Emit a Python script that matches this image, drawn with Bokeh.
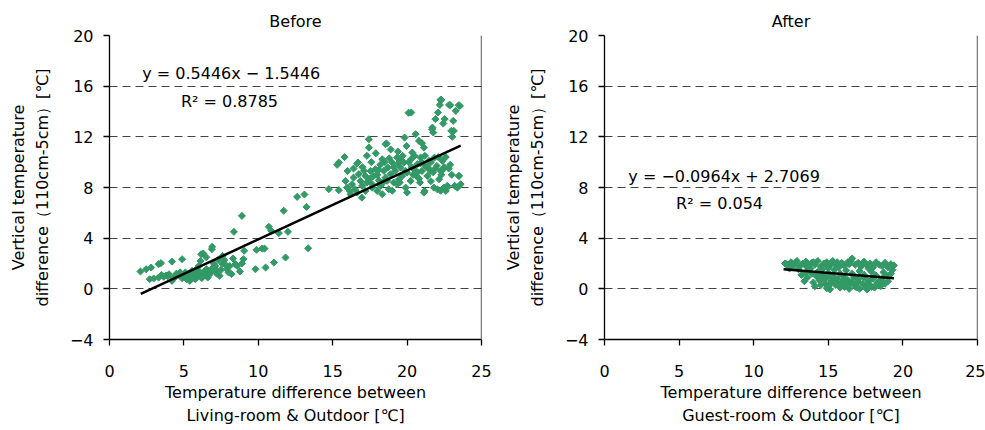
from bokeh.plotting import figure
from bokeh.layouts import row
from bokeh.models import Range1d, FixedTicker, Span, Label
from bokeh.embed import file_html
from bokeh.resources import INLINE

# ---------------- data ----------------
before_x = [2.08, 2.46, 2.8, 3.3, 3.46, 4.2, 4.88, 2.7, 2.97, 3.3, 3.65, 3.92, 4.2, 4.43, 4.66, 4.88,
            5.1, 5.26, 5.4, 5.55, 5.66, 5.77, 5.88, 6.0, 6.12, 6.16, 6.3, 6.34, 6.52, 6.6, 6.75, 6.88,
            6.9, 7.1, 7.27, 7.4, 7.57, 7.72, 7.9, 8.08, 8.2, 8.3, 8.46, 8.58, 8.76, 8.9, 9.0, 9.05,
            8.36, 9.81, 9.88, 10.26, 10.42, 10.49, 10.71, 10.87, 11.05, 11.38, 11.71, 11.83, 11.99,
            12.61, 13.1, 13.24, 13.35,
            5.0, 5.3, 5.6, 5.9, 6.1, 6.2, 6.4, 6.7, 6.9, 7.0, 7.2, 7.5, 7.8, 8.0, 4.5, 4.0, 3.5,
            6.5, 7.3, 5.2, 5.8, 7.6, 8.9,
            14.74, 15.41, 15.3, 15.41, 16.7, 15.86, 15.97, 16.15, 16.3, 16.4, 16.5, 16.65, 16.75,
            16.87, 16.98, 17.1, 17.2, 17.3, 17.43, 17.43, 17.54, 17.65, 17.76, 17.87, 17.99, 18.1,
            18.22, 18.33, 18.44, 18.55, 18.62, 18.7, 18.77, 18.89, 19.0, 19.1, 19.2, 19.33, 19.38,
            19.45, 19.56, 19.67, 19.78, 19.83, 19.9, 19.96, 20.0, 20.28, 20.26, 20.24, 20.35, 20.46,
            20.57, 20.64, 20.68, 20.8, 20.86, 20.91, 21.0, 21.0, 21.13, 21.17, 21.25, 21.36, 21.47,
            21.58, 21.7, 21.76, 21.8, 21.84, 21.9, 22.0, 22.03, 22.07, 22.15, 22.2, 22.26, 22.3,
            22.37, 22.43, 22.48, 22.52, 22.6, 22.7, 22.82, 22.97, 23.04, 23.1, 23.2, 23.27, 23.38,
            23.49, 23.55, 23.6, 16.2, 16.96, 17.65, 18.33, 18.66, 19.0, 19.33, 20.0, 21.13, 22.25,
            22.7,
            17.0, 17.6, 18.0, 18.2, 18.5, 18.8, 19.1, 19.4, 19.7, 20.1, 20.3, 20.5, 20.7, 21.0, 21.2,
            21.4, 21.6, 21.9, 22.1, 22.3, 22.5, 22.6, 22.8, 23.0, 19.5, 20.8, 21.6, 17.5, 18.4, 16.0,
            16.4, 15.8, 17.9, 18.9, 16.64, 17.3, 18.55, 20.1, 22.24, 22.9, 23.47, 21.68, 23.14, 23.47,
            5.45, 5.7, 6.05, 6.25, 6.45, 4.75, 4.3, 3.8, 7.15, 6.85, 19.9, 20.4, 21.3, 21.75, 22.4,
            18.1, 17.2, 20.9, 22.9, 19.6]
before_y = [1.37, 1.55, 1.68, 1.95, 2.03, 2.15, 2.34, 0.76, 0.82, 0.89, 0.95, 1.0, 0.63, 0.95, 1.1, 0.84,
            1.29, 0.95, 0.63, 1.42, 1.03, 0.76, 1.29, 1.8, 2.2, 2.73, 2.79, 1.16, 1.55, 0.89, 1.29, 3.13,
            3.32, 1.8, 1.42, 1.03, 1.99, 2.26, 1.55, 1.8, 1.16, 2.4, 1.95, 1.8, 1.37, 5.76, 2.34, 3.0,
            4.5, 1.55, 3.08, 3.18, 3.18, 1.68, 4.9, 4.58, 2.07, 4.4, 6.16, 2.47, 4.5,
            7.26, 7.45, 6.47, 3.2,
            1.1, 1.2, 0.9, 1.0, 1.3, 0.85, 1.4, 1.1, 1.6, 2.0, 1.2, 1.5, 1.9, 1.3, 1.2, 1.15, 1.1,
            2.5, 2.3, 0.75, 1.5, 2.6, 2.0,
            7.87, 7.79, 9.79, 9.97, 9.97, 8.52, 7.99, 7.73, 8.26, 8.78, 7.86, 7.6, 9.05,
            8.52, 8.13, 9.31, 7.73, 8.39, 11.15, 11.81, 9.31, 7.99, 8.91, 9.44, 7.73, 8.57,
            8.13, 10.23, 9.31, 8.78, 11.47, 9.57, 7.86, 9.05, 9.97, 8.39, 9.31, 10.36, 10.84,
            8.65, 9.57, 8.91, 9.97, 11.94, 7.99, 11.28, 9.18, 13.92, 10.23, 8.52, 10.76, 9.44,
            12.21, 8.91, 9.84, 11.68, 8.39, 10.36, 11.5, 9.31, 11.15, 7.73, 9.7, 8.91, 10.1,
            9.31, 12.73, 12.34, 7.99, 10.36, 13.4, 9.7, 7.86, 13.92, 8.65, 14.52, 9.31, 14.92,
            10.1, 13.05, 7.99, 13.4, 7.73, 8.13, 14.52, 12.47, 12.0, 13.26, 8.13, 14.05, 7.99,
            8.91, 14.44, 8.26, 7.47, 7.2, 8.26, 7.47, 8.53, 7.74, 8.26, 7.6, 7.6, 7.74,
            8.0,
            9.6, 10.0, 9.0, 9.8, 10.0, 10.3, 9.6, 9.9, 10.5, 10.0, 9.6, 10.5, 9.2, 10.0, 10.5,
            9.6, 10.0, 9.5, 10.4, 9.0, 9.6, 10.4, 9.5, 9.0, 8.4, 8.7, 8.5, 8.7, 8.4, 9.3,
            9.5, 10.4, 10.7, 11.0, 9.9, 10.5, 11.42, 13.9, 14.92, 14.5, 14.5, 12.6, 12.47, 8.92,
            1.15, 1.25, 1.05, 0.95, 1.2, 1.3, 0.85, 1.05, 1.35, 1.45, 9.3, 9.0, 9.6, 9.2, 9.4,
            9.4, 8.9, 9.9, 9.8, 10.2]

after_x = [12.1, 12.3, 12.5, 12.7, 12.9, 13.1, 13.3, 13.5, 13.7, 13.9, 14.1, 14.3, 14.5, 14.7, 14.9,
           15.1, 15.3, 15.5, 15.7, 15.9, 16.1, 16.3, 16.5, 16.6, 16.8, 17.0, 17.2, 17.4, 17.6, 17.8,
           18.0, 18.2, 18.4, 18.6, 18.8, 19.0, 19.2, 19.4,
           12.4, 13.0, 13.8, 14.6, 15.4, 16.2, 17.1, 17.9, 18.7, 19.3,
           13.2, 13.4, 13.6, 13.9, 14.0, 14.2, 14.4, 14.6, 14.8, 14.9, 15.0, 15.2, 15.3, 15.5, 15.6,
           15.8, 15.9, 16.0, 16.2, 16.3, 16.4, 16.6, 16.7, 16.8, 17.0, 17.1, 17.3, 17.4, 17.5, 17.7,
           17.8, 18.0, 18.1, 18.3, 18.5, 18.6, 18.8, 19.0,
           14.1, 14.5, 15.1, 15.7, 16.1, 16.9, 17.6, 18.2, 15.4, 16.5,
           12.2, 12.8, 13.4, 14.0, 14.8, 15.6, 16.4, 17.3, 18.1, 18.9, 19.1, 12.6, 13.6, 15.0, 17.7,
           13.5, 14.3, 15.0, 15.8, 16.6, 17.4, 18.2, 18.9, 14.7, 16.0, 17.0, 18.5,
           15.2, 16.8, 17.6, 18.4, 14.9, 16.3, 17.9, 19.2]
after_y = [2.0, 1.8, 2.1, 1.9, 2.2, 1.8, 2.0, 2.15, 1.85, 2.05, 1.9, 2.2, 1.75, 2.0, 2.1,
           1.85, 2.2, 1.9, 1.7, 2.05, 1.8, 2.1, 2.2, 2.4, 1.9, 2.05, 1.75, 2.15, 1.85, 2.0,
           1.7, 2.1, 1.9, 1.8, 2.05, 1.7, 1.95, 1.85,
           1.6, 1.55, 1.6, 1.55, 1.5, 1.45, 1.4, 1.35, 1.3, 1.5,
           1.1, 0.6, 0.9, 1.2, 0.5, 1.0, 0.7, 1.1, 0.4, 0.9, 0.2, 0.6, 1.0, 0.3, 0.8,
           0.1, 0.5, 1.0, 0.3, 0.7, 0.0, 0.5, 0.9, 0.2, 0.6, 0.0, 0.4, 0.9, 0.1, 0.6,
           0.3, 0.8, 0.1, 0.5, 0.2, 0.8, 0.4, 0.6,
           0.2, 0.3, -0.05, 0.35, 0.15, 0.1, -0.05, 0.3, 0.55, 0.45,
           1.95, 2.05, 1.95, 2.1, 1.95, 2.1, 1.95, 2.05, 1.95, 1.9, 1.8, 1.75, 1.7, 1.65, 1.6,
           1.3, 1.35, 1.25, 1.2, 1.2, 1.1, 1.05, 1.05, 0.75, 0.7, 0.75, 0.6,
           0.45, 0.35, 0.45, 0.55, 0.05, 0.25, 0.15, 1.2]

# regression lines: slope, intercept, x extent
before_fit = dict(slope=0.5446, intercept=-1.5446, x0=2.1, x1=23.6)
after_fit = dict(slope=-0.0964, intercept=2.7069, x0=12.0, x1=19.4)

x_ticks = [0, 5, 10, 15, 20, 25]
y_ticks = [-4, 0, 4, 8, 12, 16, 20]
grid_ticks = [0, 4, 8, 12, 16, 20]

FONT = "DejaVu Sans"
GREEN = "#339966"
Y_LABEL = "Vertical temperature\ndifference（110cm-5cm）[℃]"


def make_panel(title, xs, ys, fit, eq_text, r2_text, eq_pos, r2_pos, xlabel,
               width, border_left, border_right):
    p = figure(width=width, height=430, output_backend="svg", toolbar_location=None,
               x_range=Range1d(0, 25), y_range=Range1d(-4, 20),
               min_border_left=border_left, min_border_right=border_right,
               min_border_top=35, min_border_bottom=91, title=title)
    p.title.align = "center"
    p.title.text_font = FONT
    p.title.text_font_size = "16px"
    p.title.text_font_style = "normal"
    p.title.text_color = "black"
    p.title.offset = 0
    p.outline_line_color = None
    p.background_fill_color = "white"
    p.border_fill_color = "white"

    p.xaxis.ticker = FixedTicker(ticks=x_ticks)
    p.yaxis.ticker = FixedTicker(ticks=y_ticks)
    p.yaxis.major_label_overrides = {-4: "−4"}
    for ax in (p.xaxis, p.yaxis):
        ax.axis_line_color = "black"
        ax.axis_line_width = 1.3
        ax.major_tick_line_color = "black"
        ax.major_tick_line_width = 1.3
        ax.major_tick_in = 0
        ax.major_tick_out = 6
        ax.minor_tick_line_color = None
        ax.major_label_text_font = FONT
        ax.major_label_text_font_size = "16px"
        ax.major_label_text_color = "black"
        ax.axis_label_text_font = FONT
        ax.axis_label_text_font_size = "16px"
        ax.axis_label_text_font_style = "normal"
        ax.axis_label_text_color = "black"
        ax.axis_label_text_line_height = 1.25
    p.xaxis.axis_label = xlabel
    p.xaxis.major_label_standoff = 19
    p.xaxis.axis_label_standoff = 3
    p.yaxis.axis_label = Y_LABEL
    p.yaxis.major_label_standoff = 10
    p.yaxis.axis_label_standoff = 15

    p.xgrid.grid_line_color = None
    p.ygrid.ticker = FixedTicker(ticks=grid_ticks)
    p.ygrid.grid_line_color = "#444444"
    p.ygrid.grid_line_dash = "8 5"
    p.ygrid.grid_line_width = 1.2

    p.add_layout(Span(location=25, dimension="height", line_color="black", line_width=1.3))

    p.scatter(xs, ys, marker="square", size=5, angle=0.785398,
              fill_color=GREEN, line_color=GREEN, line_width=1)

    lx = [fit["x0"], fit["x1"]]
    ly = [fit["slope"] * v + fit["intercept"] for v in lx]
    p.line(lx, ly, line_color="black", line_width=2.5)

    p.add_layout(Label(x=eq_pos[0], y=eq_pos[1], text=eq_text, text_font=FONT,
                       text_font_size="16px", text_baseline="middle", text_align="left",
                       text_color="black"))
    p.add_layout(Label(x=r2_pos[0], y=r2_pos[1], text=r2_text, text_font=FONT,
                       text_font_size="16px", text_baseline="middle", text_align="left",
                       text_color="black"))
    return p


p1 = make_panel("Before", before_x, before_y, before_fit,
                "y = 0.5446x − 1.5446", "R² = 0.8785", (2.2, 17.0), (4.8, 14.8),
                "Temperature difference between\nLiving-room & Outdoor [℃]",
                498, 109, 17)
p2 = make_panel("After", after_x, after_y, after_fit,
                "y = −0.0964x + 2.7069", "R² = 0.054", (1.6, 8.85), (4.8, 6.7),
                "Temperature difference between\nGuest-room & Outdoor [℃]",
                487, 106, 8)

layout = row(p1, p2)
open("out.html", "w").write(file_html(layout, INLINE))
